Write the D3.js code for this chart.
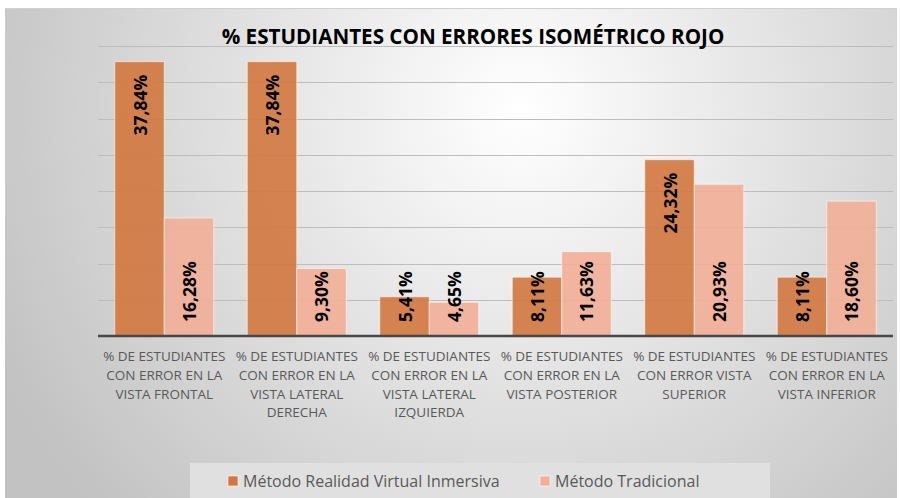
<!DOCTYPE html>
<html lang="es">
<head>
  <meta charset="UTF-8">
  <title>% Estudiantes con errores isométrico rojo</title>
  <script src="https://cdn.jsdelivr.net/npm/d3@7"></script>
  <style>
    body { margin: 0; background: #fff; }
    text { font-family: "Open Sans", sans-serif; }
  </style>
</head>
<body>
  <script>
    var w = 900, h = 498;

    // datos
    var categorias = [
      ['% DE ESTUDIANTES', 'CON ERROR EN LA', 'VISTA FRONTAL'],
      ['% DE ESTUDIANTES', 'CON ERROR EN LA', 'VISTA LATERAL', 'DERECHA'],
      ['% DE ESTUDIANTES', 'CON ERROR EN LA', 'VISTA LATERAL', 'IZQUIERDA'],
      ['% DE ESTUDIANTES', 'CON ERROR EN LA', 'VISTA POSTERIOR'],
      ['% DE ESTUDIANTES', 'CON ERROR VISTA', 'SUPERIOR'],
      ['% DE ESTUDIANTES', 'CON ERROR EN LA', 'VISTA INFERIOR']
    ];
    var realidadVirtual = [37.84, 37.84, 5.41, 8.11, 24.32, 8.11];
    var tradicional = [16.28, 9.30, 4.65, 11.63, 20.93, 18.60];
    var series = ['Método Realidad Virtual Inmersiva', 'Método Tradicional'];
    var colores = ['#d2783f', '#f2ae96'];
    var titulo = '% ESTUDIANTES CON ERRORES ISOMÉTRICO ROJO';

    var plot = { left: 98, right: 893, top: 46, bottom: 336 };

    var svg = d3.select('body').append('svg').attr('width', w).attr('height', h);
    var defs = svg.append('defs');

    // fondo degradado radial
    var grad = defs.append('radialGradient').attr('id', 'fondo')
      .attr('gradientUnits', 'userSpaceOnUse')
      .attr('cx', 520).attr('cy', 110).attr('r', 580);
    grad.append('stop').attr('offset', '0%').attr('stop-color', '#ffffff');
    grad.append('stop').attr('offset', '100%').attr('stop-color', '#c2c2c2');

    svg.append('rect').attr('x', 5).attr('y', 8).attr('width', 892).attr('height', h - 8)
      .attr('fill', 'url(#fondo)');
    svg.append('line').attr('x1', 5).attr('x2', 897).attr('y1', 8.5).attr('y2', 8.5)
      .attr('stroke', '#d0d0d0');

    // escalas
    var x0 = d3.scaleBand().domain(d3.range(categorias.length))
      .range([plot.left, plot.right]).paddingInner(0.253).paddingOuter(0.1265);
    var x1 = d3.scaleBand().domain([0, 1]).range([0, x0.bandwidth()]);
    var y = d3.scaleLinear().domain([0, 40]).range([plot.bottom, plot.top]);

    // lineas de cuadricula
    svg.append('g').selectAll('line').data(y.ticks(8).filter(function (d) { return d > 0 }))
      .enter().append('line')
      .attr('x1', plot.left).attr('x2', plot.right)
      .attr('y1', function (d) { return Math.round(y(d)) + 0.5 })
      .attr('y2', function (d) { return Math.round(y(d)) + 0.5 })
      .attr('stroke', '#bdbdbd').attr('stroke-width', 1);

    // titulo
    var t = svg.append('text').text(titulo)
      .attr('x', 473).attr('y', 44).attr('text-anchor', 'middle')
      .attr('font-weight', 'bold').attr('font-size', 20).attr('fill', '#000');
    var tl = t.node().getComputedTextLength();
    t.attr('font-size', 20 * 503 / tl);

    // barras
    var datos = [];
    categorias.forEach(function (c, i) {
      datos.push({ cat: i, s: 0, v: realidadVirtual[i] });
      datos.push({ cat: i, s: 1, v: tradicional[i] });
    });

    svg.append('g').selectAll('rect').data(datos).enter().append('rect')
      .attr('x', function (d) { return x0(d.cat) + x1(d.s) })
      .attr('y', function (d) { return y(d.v) })
      .attr('width', x1.bandwidth())
      .attr('height', function (d) { return y(0) - y(d.v) })
      .attr('fill', function (d) { return colores[d.s] })
      .attr('fill-opacity', 0.9)
      .attr('stroke', 'rgba(255,255,255,0.55)').attr('stroke-width', 1);

    // eje
    svg.append('line').attr('x1', plot.left).attr('x2', plot.right)
      .attr('y1', plot.bottom).attr('y2', plot.bottom)
      .attr('stroke', '#474747').attr('stroke-width', 2.5);

    // etiquetas de datos
    var fmt = function (v) { return v.toFixed(2).replace('.', ',') + '%' };
    var etiquetas = svg.append('g').selectAll('text').data(datos).enter().append('text')
      .text(function (d) { return fmt(d.v) })
      .attr('font-weight', 'bold').attr('font-size', 17.5).attr('fill', '#000')
      .attr('dominant-baseline', 'central');
    etiquetas.each(function (d) {
      var el = d3.select(this);
      var len = this.getComputedTextLength();
      var cx = x0(d.cat) + x1(d.s) + x1.bandwidth() / 2;
      var arriba = y(d.v) + 13;
      var base = y(0) - 14;
      var anchor, py;
      if (d.s === 0 && arriba + len <= base) { anchor = 'end'; py = arriba }
      else { anchor = 'start'; py = base }
      el.attr('text-anchor', anchor)
        .attr('transform', 'translate(' + cx + ',' + py + ') rotate(-90)');
    });

    // etiquetas de categoria
    var cats = svg.append('g').selectAll('text').data(categorias).enter().append('text')
      .attr('text-anchor', 'middle').attr('font-size', 13.5).attr('fill', '#595959')
      .attr('transform', function (d, i) { return 'translate(' + (x0(i) + x0.bandwidth() / 2) + ',361)' });
    cats.selectAll('tspan').data(function (d) { return d }).enter().append('tspan')
      .attr('x', 0).attr('y', function (d, i) { return i * 18.8 })
      .text(function (d) { return d });

    // leyenda
    svg.append('rect').attr('x', 190).attr('y', 463).attr('width', 580).attr('height', h - 463)
      .attr('fill', '#e0e0e0');
    var leyX = [228, 540];
    var ley = svg.append('g').selectAll('g').data(series).enter().append('g')
      .attr('transform', function (d, i) { return 'translate(' + leyX[i] + ',476)' });
    ley.append('rect').attr('width', 10).attr('height', 10)
      .attr('fill', function (d, i) { return colores[i] })
      .attr('stroke', 'rgba(255,255,255,0.6)');
    ley.append('text').text(function (d) { return d })
      .attr('x', 15).attr('y', 10.5).attr('font-size', 16).attr('fill', '#595959');
  </script>
</body>
</html>
